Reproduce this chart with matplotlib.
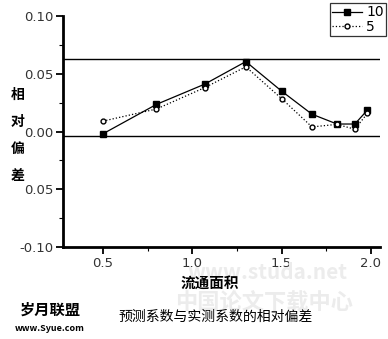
import numpy as np
import matplotlib.pyplot as plt

plt.rcParams['font.family'] = ['Noto Sans CJK SC', 'DejaVu Sans']

# datos
x = [0.5, 0.8, 1.07, 1.3, 1.5, 1.67, 1.81, 1.91, 1.98]
serie_10 = [-0.002, 0.0235, 0.041, 0.0605, 0.035, 0.015, 0.0065, 0.0065, 0.0185]
serie_5 = [0.009, 0.0195, 0.038, 0.056, 0.0285, 0.004, 0.0062, 0.002, 0.0157]
lineas_ref = [0.0625, -0.004]
yticks = [0.10, 0.05, 0.00, -0.05, -0.10]
ytick_labels = ['0.10', '0.05', '0.00', '0.05', '-0.10']
xticks = [0.5, 1.0, 1.5, 2.0]
xtick_labels = ['0.5', '1.0', '1.5', '2.0']

fig = plt.figure(figsize=(3.88, 3.39), dpi=100)
ax = fig.add_axes([0.162, 0.271, 0.817, 0.682])

for y in lineas_ref:
    ax.axhline(y, color='black', lw=1.0)

ax.plot(x, serie_10, '-', color='black', lw=0.9, marker='s', ms=4,
        mfc='black', mec='black', label='10')
ax.plot(x, serie_5, ':', color='black', lw=0.9, marker='o', ms=3.5,
        mfc='white', mec='black', label='5')

ax.set_xlim(0.276, 2.05)
ax.set_ylim(-0.10, 0.10)
ax.set_yticks(yticks)
ax.set_yticklabels(ytick_labels, family='DejaVu Sans')
ax.set_yticks([0.075, 0.025, -0.025, -0.075], minor=True)
ax.set_xticks(xticks)
ax.set_xticklabels(xtick_labels, family='DejaVu Sans')
ax.set_xticks([0.75, 1.25, 1.75], minor=True)
ax.tick_params(axis='both', which='major', direction='out', length=5, width=1.3,
               labelsize=9.5, colors='black', labelcolor='#333333', pad=2)
ax.tick_params(axis='both', which='minor', direction='out', length=3, width=0.8)

ax.spines['top'].set_visible(False)
ax.spines['right'].set_visible(False)
ax.spines['left'].set_linewidth(2)
ax.spines['bottom'].set_linewidth(2)

leg = ax.legend(loc='upper right', bbox_to_anchor=(0.995, 0.99), bbox_transform=fig.transFigure,
                frameon=True, fancybox=False, prop={'family': 'DejaVu Sans', 'size': 10},
                handlelength=2.2, borderpad=0.15, labelspacing=0.05, handletextpad=0.3,
                borderaxespad=0)
leg.get_frame().set_edgecolor('black')
leg.get_frame().set_linewidth(0.9)

# etiquetas
fig.text(0.045, 0.60, '相\n\n对\n\n偏\n\n差', ha='center', va='center',
         fontsize=10, fontweight='bold', linespacing=0.95)
fig.text(0.54, 0.165, '流通面积', ha='center', va='center', fontsize=10.5, fontweight='bold')
fig.text(0.555, 0.065, '预测系数与实测系数的相对偏差', ha='center', va='center', fontsize=10)

# marcas de agua
fig.text(0.69, 0.195, 'www.studa.net', ha='center', va='center', fontsize=15,
         fontweight='bold', color='#ececec', zorder=0)
fig.text(0.68, 0.105, '中国论文下载中心', ha='center', va='center', fontsize=16,
         fontweight='bold', color='#ececec', zorder=0)
fig.text(0.129, 0.085, '岁月联盟', ha='center', va='center', fontsize=11,
         fontweight='bold', color='black')
fig.text(0.129, 0.032, 'www.Syue.com', ha='center', va='center', fontsize=6.5,
         fontweight='bold', color='black')

fig.savefig('out.png', dpi=100)
